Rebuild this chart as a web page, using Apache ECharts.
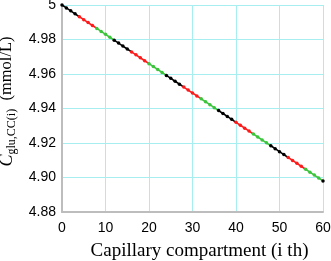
<!DOCTYPE html>
<html>
<head>
<meta charset="utf-8">
<script src="https://cdn.jsdelivr.net/npm/echarts@6/dist/echarts.min.js"></script>
<style>
  html, body { margin: 0; padding: 0; background: #fff; }
  #main { width: 331px; height: 261px; }
</style>
</head>
<body>
<div id="main"></div>
<script>
// compartment index and glucose concentration (mmol/L)
var compartments = [];
for (var n = 0; n <= 60; n++) compartments.push(n);
var concentration = [
    5.0000, 4.9983, 4.9966, 4.9949, 4.9932, 4.9915, 4.9898, 4.9881, 4.9864, 4.9847,
    4.9830, 4.9813, 4.9796, 4.9779, 4.9762, 4.9745, 4.9728, 4.9711, 4.9694, 4.9677,
    4.9660, 4.9643, 4.9626, 4.9609, 4.9592, 4.9575, 4.9558, 4.9541, 4.9524, 4.9507,
    4.9490, 4.9473, 4.9456, 4.9439, 4.9422, 4.9405, 4.9388, 4.9371, 4.9354, 4.9337,
    4.9320, 4.9303, 4.9286, 4.9269, 4.9252, 4.9235, 4.9218, 4.9201, 4.9184, 4.9167,
    4.9150, 4.9133, 4.9116, 4.9099, 4.9082, 4.9065, 4.9048, 4.9031, 4.9014, 4.8997,
    4.8980
];
var groupColors = ['#000000', '#ff1a1a', '#3cc43c'];
var groupSize = 4;

var myChart = echarts.init(document.getElementById('main'));

// one line per group of 4 compartments, linked to the next group's first point
var series = [];
for (var g = 0; g * groupSize < compartments.length; g++) {
    var pts = [];
    var start = g * groupSize;
    for (var k = start; k <= start + groupSize && k < compartments.length; k++) {
        pts.push({
            value: [compartments[k], concentration[k]],
            symbolSize: (k === start + groupSize) ? 0 : 3.5
        });
    }
    var col = groupColors[g % groupColors.length];
    series.push({
        type: 'line',
        data: pts,
        symbol: 'circle',
        showSymbol: true,
        silent: true,
        lineStyle: { color: col, width: 1.6 },
        itemStyle: { color: col },
        z: 3
    });
}

var option = {
    backgroundColor: '#fff',
    animation: false,
    grid: { left: 62, right: 8, top: 5, bottom: 49, containLabel: false, outerBoundsMode: 'none' },
    xAxis: {
        type: 'value',
        min: 0,
        max: 60,
        interval: 10,
        name: 'Capillary compartment (i th)',
        nameLocation: 'middle',
        nameGap: 30,
        nameTextStyle: { fontFamily: 'Liberation Serif', fontSize: 19, color: '#000', padding: [0, 0, 0, 14] },
        axisLine: { show: true, lineStyle: { color: '#bdbdbd', width: 2 } },
        axisTick: { show: false },
        axisLabel: { fontFamily: 'Liberation Sans', fontSize: 14, color: '#000', margin: 9 },
        splitLine: { show: true, lineStyle: { color: '#a6eef0', width: 1 } }
    },
    yAxis: {
        type: 'value',
        min: 4.88,
        max: 5,
        interval: 0.02,
        name: '{i|C}{sub|glu,CC(i)}{n|  (mmol/L)}',
        nameLocation: 'middle',
        nameGap: 44,
        nameRotate: 90,
        nameTextStyle: {
            color: '#000',
            padding: [0, 0, 0, 14],
            rich: {
                i: { fontFamily: 'Liberation Serif', fontStyle: 'italic', fontSize: 18, color: '#000', lineHeight: 22 },
                sub: { fontFamily: 'Liberation Serif', fontSize: 12, color: '#000', padding: [10, 0, 0, 0], lineHeight: 22 },
                n: { fontFamily: 'Liberation Serif', fontSize: 16.5, color: '#000', lineHeight: 22 }
            }
        },
        axisLine: { show: true, lineStyle: { color: '#bdbdbd', width: 2 } },
        axisTick: { show: false },
        axisLabel: {
            fontFamily: 'Liberation Sans',
            fontSize: 14,
            color: '#000',
            margin: 6,
            formatter: function (v) {
                return Math.abs(v - 5) < 1e-9 ? '5' : v.toFixed(2);
            }
        },
        splitLine: { show: true, lineStyle: { color: '#a6eef0', width: 1 } }
    },
    series: series
};

myChart.setOption(option);
</script>
</body>
</html>
